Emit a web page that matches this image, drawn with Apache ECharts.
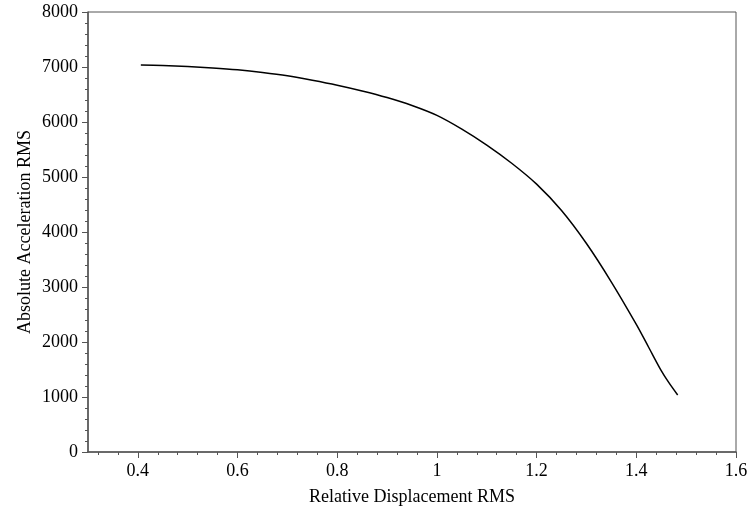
<!DOCTYPE html>
<html>
<head>
<meta charset="utf-8">
<script src="https://cdn.jsdelivr.net/npm/echarts@6/dist/echarts.min.js"></script>
<style>html,body{margin:0;padding:0;background:#fff}#c{width:747px;height:508px}</style>
</head>
<body>
<div id="c"></div>
<script>
const dispRMS = [0.406, 0.45, 0.5, 0.55, 0.6, 0.65, 0.7, 0.75, 0.8, 0.85, 0.9, 0.95, 1.0, 1.05, 1.1, 1.15, 1.2, 1.25, 1.3, 1.35, 1.4, 1.425, 1.45, 1.465, 1.483];
const accRMS  = [7036, 7028, 7010, 6983, 6948, 6900, 6840, 6760, 6670, 6565, 6445, 6300, 6120, 5870, 5580, 5250, 4870, 4390, 3790, 3090, 2320, 1900, 1480, 1265, 1036];
const xTicks = [0.4, 0.6, 0.8, 1.0, 1.2, 1.4, 1.6];
const xMinorTicks = [];
for (let i = 8; i <= 40; i++) { if (i % 5 !== 0) xMinorTicks.push(+(i * 0.04).toFixed(2)); }

const font = 'Liberation Serif, Times New Roman, serif';
const axisColor = '#555';
const chart = echarts.init(document.getElementById('c'), null, {renderer: 'canvas'});
chart.setOption({
  animation: false,
  grid: {left: 88, right: 11, top: 12, bottom: 56, outerBoundsMode: 'none', containLabel: false,
         show: true, borderColor: axisColor, borderWidth: 1, backgroundColor: 'transparent'},
  xAxis: [{
    type: 'value', min: 0.3, max: 1.6,
    name: 'Relative Displacement RMS', nameLocation: 'middle', nameGap: 36,
    nameTextStyle: {fontFamily: font, fontSize: 18, color: '#000'},
    axisLine: {show: true, lineStyle: {color: axisColor, width: 1.5}},
    axisTick: {show: true, length: 6, customValues: xTicks, lineStyle: {color: axisColor}},
    axisLabel: {customValues: xTicks, fontFamily: font, fontSize: 18, color: '#000', margin: 10},
    splitLine: {show: false}
  }, {
    type: 'value', min: 0.3, max: 1.6, position: 'bottom', gridIndex: 0,
    axisLine: {show: false},
    axisTick: {show: true, length: 3, customValues: xMinorTicks, lineStyle: {color: axisColor}},
    axisLabel: {show: false},
    splitLine: {show: false}
  }],
  yAxis: {
    type: 'value', min: 0, max: 8000, interval: 1000,
    name: 'Absolute Acceleration RMS', nameLocation: 'middle', nameGap: 54, nameMoveOverlap: false,
    nameTextStyle: {fontFamily: font, fontSize: 18, color: '#000'},
    axisLine: {show: true, lineStyle: {color: axisColor, width: 1.5}},
    axisTick: {show: true, length: 6, lineStyle: {color: axisColor}},
    minorTick: {show: true, splitNumber: 5, length: 3, lineStyle: {color: axisColor}},
    axisLabel: {fontFamily: font, fontSize: 18, color: '#000', margin: 10, formatter: v => String(v)},
    splitLine: {show: false}
  },
  series: [{
    type: 'line', xAxisIndex: 0,
    data: dispRMS.map((x, i) => [x, accRMS[i]]),
    smooth: 0.3, showSymbol: false, symbol: 'none',
    lineStyle: {color: '#000', width: 1.5}
  }]
});
</script>
</body>
</html>
